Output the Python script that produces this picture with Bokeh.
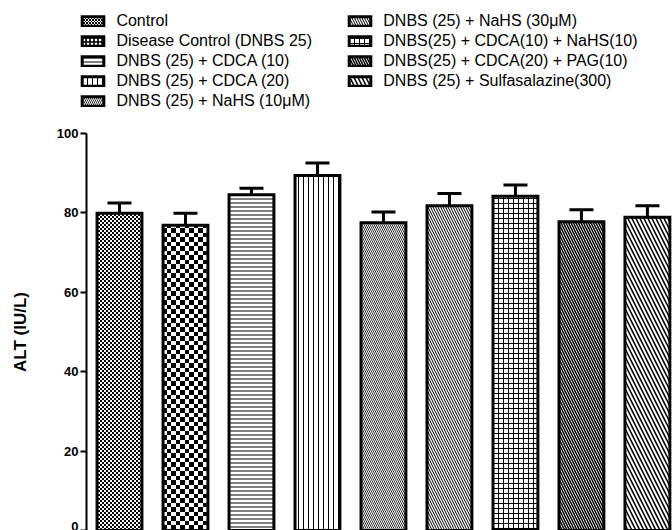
import base64

from bokeh.plotting import figure
from bokeh.layouts import column
from bokeh.models import (Range1d, ColumnDataSource, Legend, LegendItem, Whisker,
                          TeeHead, FixedTicker, ImageURLTexture, BoxAnnotation)
from bokeh.embed import file_html
from bokeh.resources import INLINE

# ALT levels per treatment group (mean and SEM, IU/L)
groups = [
    "Control",
    "Disease Control (DNBS 25)",
    "DNBS (25) + CDCA (10)",
    "DNBS (25) + CDCA (20)",
    "DNBS (25) + NaHS (10μM)",
    "DNBS (25) + NaHS (30μM)",
    "DNBS(25) + CDCA(10) + NaHS(10)",
    "DNBS(25) + CDCA(20) + PAG(10)",
    "DNBS (25) + Sulfasalazine(300)",
]
alt_mean = [79.9, 76.9, 84.6, 89.4, 77.5, 81.8, 84.2, 77.8, 78.9]
alt_sem = [2.6, 3.0, 1.6, 3.2, 2.7, 3.1, 2.8, 3.0, 2.9]
y_ticks = [0, 20, 40, 60, 80, 100]

# fill pattern for each bar (black hatch on white)
patterns = ["check_fine", "check_coarse", "-", "|", "\\", "\\", "+", "\\", "\\"]
pattern_scale = [4, 9, 4, 5, 4, 5, 5, 5, 8]
pattern_weight = [1, 1, 1, 1, 0.8, 1, 1, 1.5, 1.5]

# small legend swatches use built-in hatches for the two checkerboards
swatch_patterns = ["x", "+", "-", "|", "\\", "\\", "+", "\\", "\\"]
swatch_scale = [3, 4, 4, 5, 4, 5, 5, 5, 8]
swatch_weight = [1, 1.6, 1, 1, 0.8, 1, 1, 1.5, 1.5]

FONT = "Liberation Sans"


def checker_texture(cell):
    """Checkerboard tile as an inline SVG image texture."""
    n = 2 * cell
    svg = (f'<svg xmlns="http://www.w3.org/2000/svg" width="{n}" height="{n}" '
           f'shape-rendering="crispEdges">'
           f'<rect x="0" y="0" width="{cell}" height="{cell}" fill="#000"/>'
           f'<rect x="{cell}" y="{cell}" width="{cell}" height="{cell}" fill="#000"/>'
           f'</svg>')
    url = "data:image/svg+xml;base64," + base64.b64encode(svg.encode()).decode()
    return ImageURLTexture(url=url, repetition="repeat")


base_style = dict(fill_color="white", line_color="black", line_width=3,
                  line_join="miter", hatch_color="black")

# ---- main bar chart -------------------------------------------------------
xpos = list(range(len(groups)))
src = ColumnDataSource(dict(
    x=xpos,
    top=alt_mean,
    upper=[m + s for m, s in zip(alt_mean, alt_sem)],
    pattern=patterns,
    hscale=pattern_scale,
    hweight=pattern_weight,
))

p = figure(width=672, height=410, title=None,
           x_range=Range1d(-0.5, 8.38), y_range=Range1d(0, 100),
           output_backend="svg", toolbar_location=None, x_axis_location=None,
           min_border_left=86, min_border_top=13, min_border_bottom=0,
           min_border_right=0)
p.frame_align = False
p.outline_line_color = None
p.grid.visible = False

bars = p.vbar(x="x", top="top", bottom=0, width=0.68, source=src,
              hatch_pattern="pattern", hatch_scale="hscale",
              hatch_weight="hweight",
              hatch_extra={"check_fine": checker_texture(2),
                           "check_coarse": checker_texture(4.5)},
              **base_style)

err = Whisker(base="x", lower="top", upper="upper", source=src,
              line_color="black", line_width=3, lower_head=None,
              upper_head=TeeHead(size=24, line_color="black", line_width=3),
              level="glyph")
p.add_layout(err)

ax = p.yaxis[0]
ax.ticker = FixedTicker(ticks=y_ticks)
ax.axis_label = "ALT (IU/L)"
ax.axis_label_text_font = FONT
ax.axis_label_text_font_style = "bold"
ax.axis_label_text_font_size = "17px"
ax.axis_label_text_color = "black"
ax.axis_label_standoff = 24
ax.major_label_text_font = FONT
ax.major_label_text_font_style = "bold"
ax.major_label_text_font_size = "13px"
ax.major_label_text_color = "black"
ax.major_label_standoff = 2
ax.axis_line_width = 2
ax.major_tick_line_width = 2
ax.major_tick_out = 6
ax.major_tick_in = 0
ax.minor_tick_out = 0
ax.minor_tick_in = 0

# ---- legend panel ---------------------------------------------------------
leg = figure(width=672, height=120, title=None,
             x_range=Range1d(-0.5, 8.38), y_range=Range1d(0, 100),
             output_backend="svg", toolbar_location=None,
             x_axis_location=None, y_axis_location=None, min_border=0)
leg.frame_align = False
leg.outline_line_color = None
leg.grid.visible = False

swatches = []
for i in range(len(groups)):
    r = leg.vbar(x="x", top="top", bottom=0, width=0.68, source=src,
                 hatch_pattern=swatch_patterns[i], hatch_scale=swatch_scale[i],
                 hatch_weight=swatch_weight[i], **base_style)
    swatches.append(r)

# blank out the swatch renderers' own bars; only their legend glyphs remain
leg.add_layout(BoxAnnotation(fill_color="white", fill_alpha=1.0,
                             line_alpha=0, level="annotation"))


def make_legend(idx, loc):
    return Legend(items=[LegendItem(label=groups[i], renderers=[swatches[i]]) for i in idx],
                  location=loc, padding=0, margin=0, spacing=0,
                  border_line_color=None, background_fill_alpha=0,
                  glyph_width=27, glyph_height=12, label_height=20,
                  label_standoff=10, label_text_font=FONT,
                  label_text_font_size="16px", label_text_color="black")


leg.add_layout(make_legend(range(0, 5), (79.4, 9)))
leg.add_layout(make_legend(range(5, 9), (346.3, 29)))

layout = column(leg, p, spacing=0)
open("out.html", "w").write(file_html(layout, INLINE))
